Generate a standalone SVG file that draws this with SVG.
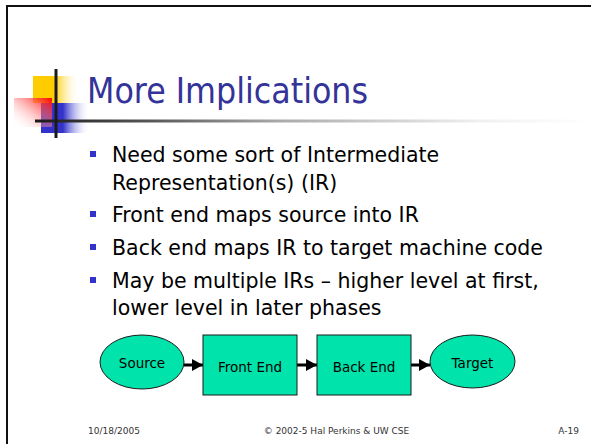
<svg xmlns="http://www.w3.org/2000/svg" width="591" height="444" viewBox="0 0 591 444">
  <style>
    .title { font-family: "DejaVu Sans", "Liberation Sans", sans-serif; font-size: 36px; fill: #333399; }
    .body { font-family: "DejaVu Sans", "Liberation Sans", sans-serif; font-size: 20.5px; fill: #000000; }
    .bullet { fill: #3333CC; }
    .node { fill: #00E3AB; stroke: #1a1a1a; stroke-width: 1; }
    .label { font-family: "DejaVu Sans", "Liberation Sans", sans-serif; font-size: 13.5px; fill: #000000; text-anchor: middle; }
    .footer { font-family: "DejaVu Sans", "Liberation Sans", sans-serif; font-size: 9px; fill: #333333; }
    .conn { stroke: #000000; stroke-width: 3; fill: none; }
  </style>
  <defs>
    <linearGradient id="gYellow" x1="0" y1="0" x2="1" y2="0">
      <stop offset="0" stop-color="#FFCC00"/>
      <stop offset="0.45" stop-color="#FFCC00"/>
      <stop offset="1" stop-color="#FFFFFF" stop-opacity="0"/>
    </linearGradient>
    <linearGradient id="gBlue" x1="0" y1="0" x2="1" y2="0">
      <stop offset="0" stop-color="#3333CC"/>
      <stop offset="0.45" stop-color="#3333CC"/>
      <stop offset="1" stop-color="#FFFFFF" stop-opacity="0"/>
    </linearGradient>
    <linearGradient id="gRed" x1="1" y1="0" x2="0" y2="1">
      <stop offset="0" stop-color="#FF0000"/>
      <stop offset="1" stop-color="#FFFFFF" stop-opacity="0"/>
    </linearGradient>
    <linearGradient id="gRule" x1="35" y1="0" x2="591" y2="0" gradientUnits="userSpaceOnUse">
      <stop offset="0" stop-color="#1a1a1a"/>
      <stop offset="0.2" stop-color="#555555"/>
      <stop offset="0.44" stop-color="#aaaaaa"/>
      <stop offset="0.8" stop-color="#f0f0f0"/>
      <stop offset="1" stop-color="#ffffff"/>
    </linearGradient>
    <marker id="arrow" markerUnits="userSpaceOnUse" markerWidth="11" markerHeight="12" refX="11" refY="6" orient="auto">
      <path d="M0,0 L11,6 L0,12 Z" fill="#000000"/>
    </marker>
  </defs>

  <rect width="591" height="444" fill="#FFFFFF"/>

  <!-- slide frame (top and left edges) -->
  <path d="M7,444 L7,6 L591,6" fill="none" stroke="#111111" stroke-width="2"/>

  <!-- title ornament -->
  <rect x="33" y="76" width="47" height="27" fill="url(#gYellow)"/>
  <rect x="41" y="103" width="49" height="30" fill="url(#gBlue)"/>
  <rect x="14" y="98" width="38" height="29" fill="url(#gRed)"/>
  <line x1="35" y1="121" x2="591" y2="121" stroke="url(#gRule)" stroke-width="3"/>
  <line x1="56" y1="69" x2="56" y2="138" stroke="#1a1a1a" stroke-width="3"/>

  <text class="title" x="87" y="103" textLength="281" lengthAdjust="spacingAndGlyphs">More Implications</text>

  <!-- bullet list -->
  <g id="bullets">
    <rect class="bullet" x="90" y="151" width="6" height="6"/>
    <text class="body" x="112" y="162">Need some sort of Intermediate</text>
    <text class="body" x="112" y="190">Representation(s) (IR)</text>
    <rect class="bullet" x="90" y="211" width="6" height="6"/>
    <text class="body" x="112" y="222">Front end maps source into IR</text>
    <rect class="bullet" x="90" y="244" width="6" height="6"/>
    <text class="body" x="112" y="255">Back end maps IR to target machine code</text>
    <rect class="bullet" x="90" y="277" width="6" height="6"/>
    <text class="body" x="112" y="288">May be multiple IRs – higher level at first,</text>
    <text class="body" x="112" y="315">lower level in later phases</text>
  </g>

  <!-- pipeline -->
  <g id="connectors">
    <line class="conn" x1="184" y1="365" x2="203" y2="365" marker-end="url(#arrow)"/>
    <line class="conn" x1="297" y1="365" x2="317" y2="365" marker-end="url(#arrow)"/>
    <line class="conn" x1="411" y1="365" x2="430" y2="365" marker-end="url(#arrow)"/>
  </g>
  <g id="source">
    <ellipse class="node" cx="142" cy="362" rx="42" ry="27"/>
    <text class="label" x="142" y="368">Source</text>
  </g>
  <g id="front-end">
    <rect class="node" x="203" y="335" width="94" height="60"/>
    <text class="label" x="250" y="372">Front End</text>
  </g>
  <g id="back-end">
    <rect class="node" x="317" y="335" width="94" height="60"/>
    <text class="label" x="364" y="372">Back End</text>
  </g>
  <g id="target">
    <ellipse class="node" cx="472.5" cy="361.5" rx="42.5" ry="26.5"/>
    <text class="label" x="472.5" y="368">Target</text>
  </g>

  <!-- footer -->
  <text class="footer" x="88" y="434">10/18/2005</text>
  <text class="footer" x="336.5" y="434" text-anchor="middle">© 2002-5 Hal Perkins &amp; UW CSE</text>
  <text class="footer" x="579" y="434" text-anchor="end">A-19</text>
</svg>
